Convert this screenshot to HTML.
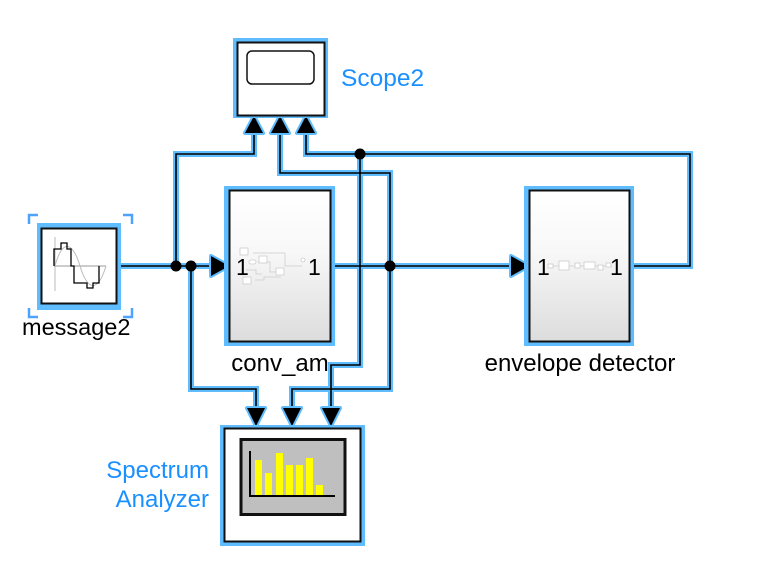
<!DOCTYPE html>
<html><head><meta charset="utf-8"><style>
html,body{margin:0;padding:0;background:#fff;}
svg{display:block;}
text{font-family:"Liberation Sans",Arial,sans-serif;}
</style></head><body>
<svg width="780" height="586" viewBox="0 0 780 586" xmlns="http://www.w3.org/2000/svg">
<defs>
<linearGradient id="g" x1="0" y1="0" x2="0" y2="1">
<stop offset="0" stop-color="#ffffff"/><stop offset="0.4" stop-color="#f8f8f8"/><stop offset="1" stop-color="#dcdcdc"/>
</linearGradient>
</defs>
<g fill="none" stroke-linejoin="miter">
<g stroke="#5ebcff" stroke-width="6">
<path d="M120 266 H214"/>
<path d="M176 266 V154 H254 V130"/>
<path d="M191 266 V389 H256 V408"/>
<path d="M330 266 H512"/>
<path d="M390 266 V173 H280 V130"/>
<path d="M390 266 V389 H292 V408"/>
<path d="M630 266 H690 V154 H306 V130"/>
<path d="M360 154 V365 H331 V408"/>
</g>
<g stroke="#000" stroke-width="1.6">
<path d="M120 266 H214"/>
<path d="M176 266 V154 H254 V130"/>
<path d="M191 266 V389 H256 V408"/>
<path d="M330 266 H512"/>
<path d="M390 266 V173 H280 V130"/>
<path d="M390 266 V389 H292 V408"/>
<path d="M630 266 H690 V154 H306 V130"/>
<path d="M360 154 V365 H331 V408"/>
</g>
</g>
<g fill="#000">
<circle cx="176" cy="266" r="5.5"/><circle cx="191" cy="266" r="5.5"/>
<circle cx="390" cy="266" r="5.5"/><circle cx="360" cy="154" r="5.5"/>
</g>
<g fill="#000" stroke="#5ebcff" stroke-width="4" stroke-linejoin="round" paint-order="stroke">
<path d="M254 116 L245 133 L263 133 Z"/>
<path d="M280 116 L271 133 L289 133 Z"/>
<path d="M306 116 L297 133 L315 133 Z"/>
<path d="M256 426 L247 408 L265 408 Z"/>
<path d="M292 426 L283 408 L301 408 Z"/>
<path d="M331 426 L322 408 L340 408 Z"/>
<path d="M229 266 L211 256 L211 276 Z"/>
<path d="M529 266 L511 256 L511 276 Z"/>
</g>
<rect x="233" y="38" width="95" height="80" fill="#5ebcff"/>
<rect x="237.5" y="42.5" width="87" height="73" fill="#fff" stroke="#111" stroke-width="2"/>
<rect x="247" y="51" width="67" height="33" rx="5" fill="#fff" stroke="#111" stroke-width="1.5"/>
<text x="341" y="86" font-size="24.5" fill="#1a8fff">Scope2</text>
<g stroke="#4da3ff" stroke-width="2.5" fill="none">
<path d="M29 224 V215 H38"/><path d="M123 215 H132 V224"/>
<path d="M29 308 V317 H38"/><path d="M123 317 H132 V308"/>
</g>
<rect x="37" y="223" width="84" height="87" fill="#5ebcff"/>
<rect x="41.5" y="228.5" width="75" height="75" fill="#fff" stroke="#111" stroke-width="2"/>
<path d="M55 237 V291" stroke="#bbb" stroke-width="1"/>
<path d="M54 266 H106" stroke="#999" stroke-width="1"/>
<path d="M55 266 C62 240,72 240,80 266 C88 292,98 292,106 266" stroke="#bbb" fill="none" stroke-width="1"/>
<path d="M54 266 V249 H61 V243 H67 V249 H71 V266 H74 V283 H87 V288 H93 V283 H99 V266" stroke="#000" fill="none" stroke-width="1.3"/>
<text x="22" y="335" font-size="23.5" fill="#000">message2</text>
<rect x="224" y="186" width="111" height="160" fill="#5ebcff"/>
<rect x="229.5" y="190.5" width="101" height="151" fill="url(#g)" stroke="#111" stroke-width="2"/>
<g stroke="#ccc" fill="#fff" stroke-width="0.8">
<path d="M253 253 H285 V266 H302 M258 262 H270 V272 H279 M246 270 H256 V274 H262 M255 280 H264 V277 H281" fill="none"/>
<rect x="240" y="248" width="8" height="7"/><rect x="249" y="260" width="7" height="4" rx="2"/>
<rect x="259" y="256" width="8" height="7"/><rect x="276" y="268" width="8" height="7"/>
<rect x="243" y="277" width="8" height="7"/><circle cx="303" cy="260" r="2"/>
</g>
<text x="236" y="275" font-size="23" fill="#000">1</text>
<text x="308" y="275" font-size="23" fill="#000">1</text>
<text x="280" y="371" font-size="24" fill="#000" text-anchor="middle">conv_am</text>
<rect x="524" y="186" width="110" height="160" fill="#5ebcff"/>
<rect x="529.5" y="190.5" width="100" height="151" fill="url(#g)" stroke="#111" stroke-width="2"/>
<g stroke="#ccc" fill="#fff" stroke-width="0.8">
<path d="M548 266 H612" fill="none"/>
<rect x="548" y="264" width="5" height="4"/><rect x="559" y="261" width="10" height="9"/>
<rect x="575" y="263" width="5" height="5"/><rect x="584" y="262" width="11" height="7"/>
<rect x="598" y="265" width="5" height="5"/><rect x="606" y="263" width="5" height="4"/>
</g>
<text x="537" y="275" font-size="23" fill="#000">1</text>
<text x="610" y="275" font-size="23" fill="#000">1</text>
<text x="580" y="371" font-size="24" fill="#000" text-anchor="middle">envelope detector</text>
<rect x="220" y="425" width="145" height="121" fill="#5ebcff"/>
<rect x="224.5" y="428.5" width="136" height="113" fill="#fff" stroke="#111" stroke-width="2"/>
<rect x="241" y="439.5" width="104" height="75" fill="#bfbfbf" stroke="#111" stroke-width="3"/>
<g fill="#ffff00">
<rect x="255" y="460" width="7" height="35"/><rect x="265" y="473" width="7" height="22"/>
<rect x="276" y="453" width="7" height="42"/><rect x="286" y="465" width="7" height="30"/>
<rect x="296" y="465" width="7" height="30"/><rect x="306" y="458" width="7" height="37"/>
<rect x="316" y="485" width="7" height="10"/>
</g>
<path d="M250 451 V496 H335" stroke="#000" stroke-width="2" fill="none"/>
<text x="209" y="478" font-size="24" fill="#1a8fff" text-anchor="end">Spectrum</text>
<text x="209" y="507" font-size="24" fill="#1a8fff" text-anchor="end">Analyzer</text>
</svg>
</body></html>
